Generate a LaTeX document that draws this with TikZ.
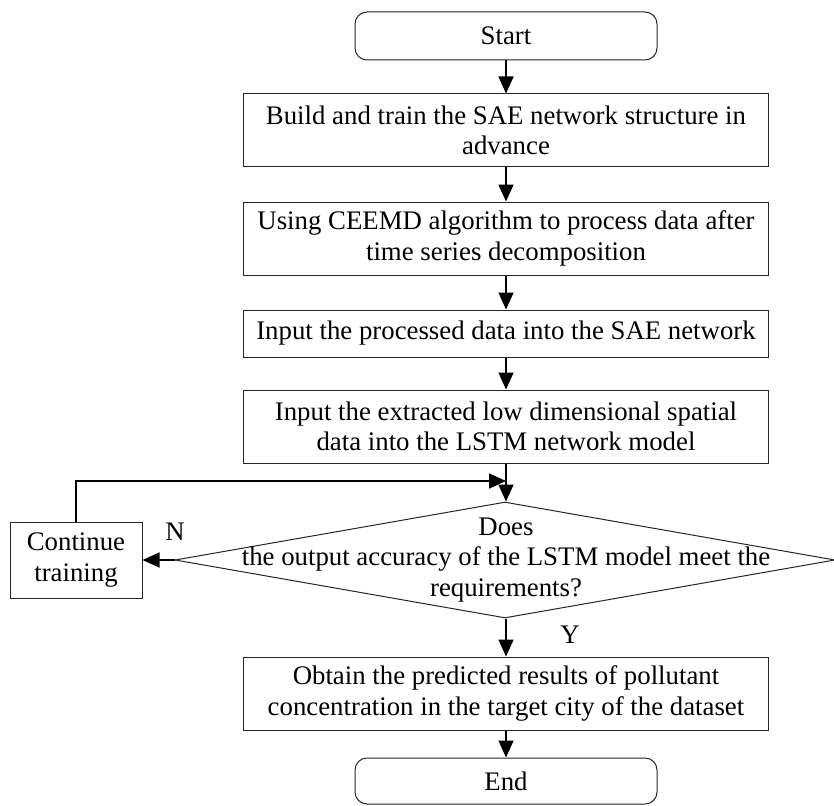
\documentclass[tikz,border=0pt]{standalone}
\usepackage{fontspec}
\setmainfont{Liberation Serif}
\usetikzlibrary{shapes.geometric,arrows.meta}
\begin{document}
\begin{tikzpicture}[x=1pt,y=-1pt,
  every node/.style={font=\fontsize{26.8}{30.5}\selectfont, inner sep=0pt, align=center},
  procbox/.style={draw=black!85, line width=1pt, rectangle, minimum width=525pt},
  termbox/.style={draw=black!85, line width=1pt, rectangle, rounded corners=12pt, minimum width=302pt},
  flow/.style={line width=1.7pt, -{Triangle[length=17pt,width=15pt]}}
]
\useasboundingbox (0,0) rectangle (834,805);

\node[termbox, minimum height=48pt] (start) at (506,36) {Start};
\node[procbox, minimum height=73pt] (b1) at (506,130.5) {Build and train the SAE network structure in\\advance};
\node[procbox, minimum height=73pt] (b2) at (506,238.5) {Using CEEMD algorithm to process data after\\time series decomposition};
\node[procbox, minimum height=47pt] (b3) at (506,333.5) {Input the processed data into the SAE network};
\node[procbox, minimum height=73pt] (b4) at (506,426.5) {Input the extracted low dimensional spatial\\data into the LSTM network model};
\node[draw=black!85, line width=1pt, diamond, minimum width=660pt, minimum height=116pt] (dia) at (505,560) {};
\node (diatext) at (506,560) {Does\\the output accuracy of the LSTM model meet the\\requirements?};
\node[procbox, minimum width=132pt, minimum height=76pt] (cont) at (76,560) {Continue\\training};
\node[procbox, minimum height=73pt] (b5) at (506,693.5) {Obtain the predicted results of pollutant\\concentration in the target city of the dataset};
\node[termbox, minimum height=46pt] (end) at (506,781) {End};

\node (nlab) at (175,532) {N};
\node (ylab) at (570,635) {Y};

\coordinate (join) at (506,481);

\draw[flow] (start) -- (b1);
\draw[flow] (b1) -- (b2);
\draw[flow] (b2) -- (b3);
\draw[flow] (b3) -- (b4);
\draw[flow] (b4.south) -- (b4.south |- dia.north);
\draw[flow] (dia.south -| b5.north) -- (b5.north);
\draw[flow] (b5) -- (end);
\draw[flow] (dia.west) -- (cont.east);
\draw[flow] (cont.north) |- (join);
\end{tikzpicture}
\end{document}
